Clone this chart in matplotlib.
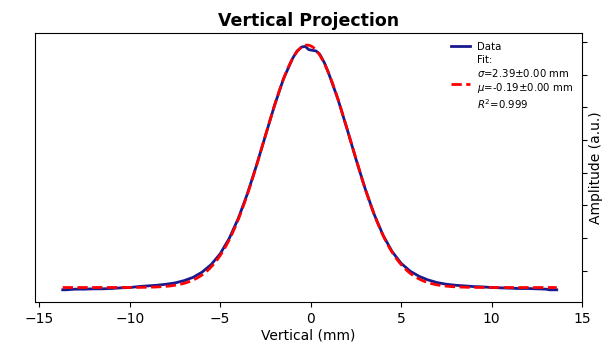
import numpy as np
import matplotlib
matplotlib.use("Agg")
import matplotlib.pyplot as plt

# measured projection (mm, a.u.)
pos_mm = [-13.7, -13.5, -13.3, -13.0, -12.5, -12.0, -11.5, -11.0, -10.5, -10.0,
          -9.5, -9.0, -8.5, -8.0, -7.5, -7.0, -6.5, -6.0, -5.5, -5.0,
          -4.5, -4.0, -3.5, -3.0, -2.5, -2.0, -1.5, -1.0, -0.75, -0.5,
          -0.3, -0.1, 0.1, 0.3, 0.5, 0.75, 1.0, 1.5, 2.0, 2.5,
          3.0, 3.5, 4.0, 4.5, 5.0, 5.5, 6.0, 6.5, 7.0, 7.5,
          8.0, 8.5, 9.0, 9.5, 10.0, 10.5, 11.0, 11.5, 12.0, 12.5,
          13.0, 13.2, 13.6]
amplitude = [0.042, 0.042, 0.043, 0.044, 0.044, 0.045, 0.045, 0.046, 0.048, 0.049,
             0.052, 0.054, 0.056, 0.059, 0.063, 0.070, 0.080, 0.096, 0.119, 0.152,
             0.199, 0.260, 0.335, 0.421, 0.513, 0.605, 0.687, 0.749, 0.772, 0.784,
             0.786, 0.776, 0.774, 0.772, 0.762, 0.737, 0.703, 0.626, 0.536, 0.442,
             0.353, 0.274, 0.209, 0.159, 0.123, 0.099, 0.083, 0.072, 0.064, 0.059,
             0.056, 0.054, 0.052, 0.051, 0.049, 0.048, 0.047, 0.046, 0.046, 0.045,
             0.044, 0.042, 0.042]

# gaussian fit parameters (sigma/mu from legend, amp/offset)
fit_sigma = 2.39
fit_mu = -0.19
fit_amp = 0.741
fit_offset = 0.049
fit_r2 = 0.999

xf = np.linspace(pos_mm[0], pos_mm[-1], 400)
yf = fit_offset + fit_amp * np.exp(-(xf - fit_mu) ** 2 / (2 * fit_sigma ** 2))

fig = plt.figure(figsize=(6.07, 3.46), dpi=100)
ax = fig.add_axes([0.058, 0.127, 0.901, 0.778])

ax.plot(pos_mm, amplitude, color='#1a1a90', lw=2, label='Data')
fit_label = (f'Fit:\n$\\sigma$={fit_sigma:.2f}$\\pm$0.00 mm\n'
             f'$\\mu$={fit_mu:.2f}$\\pm$0.00 mm\n$R^2$={fit_r2:.3f}')
ax.plot(xf, yf, color='red', ls='--', lw=2, label=fit_label)

ax.set_xlim(-15.22, 15)
ax.set_xticks([-15, -10, -5, 0, 5, 10, 15])
ax.set_xticklabels(['\u221215', '\u221210', '\u22125', '0', '5', '10', '15'])
ax.set_xlabel('Vertical (mm)', fontsize=10, labelpad=2)

ax.yaxis.tick_right()
ax.yaxis.set_label_position('right')
ax.set_yticks([0.1, 0.2, 0.3, 0.4, 0.5, 0.6, 0.7, 0.8])
ax.set_yticklabels([])
ax.set_ylabel('Amplitude (a.u.)', fontsize=10, labelpad=-2)
ax.tick_params(labelsize=10)

ax.set_title('Vertical Projection', fontsize=12.5, fontweight='bold', pad=5)
ax.legend(loc='upper right', fontsize=7.3, frameon=False, labelspacing=0.3,
          handlelength=1.8, handletextpad=0.7, borderaxespad=0.5)

fig.savefig('out.png', dpi=100)
